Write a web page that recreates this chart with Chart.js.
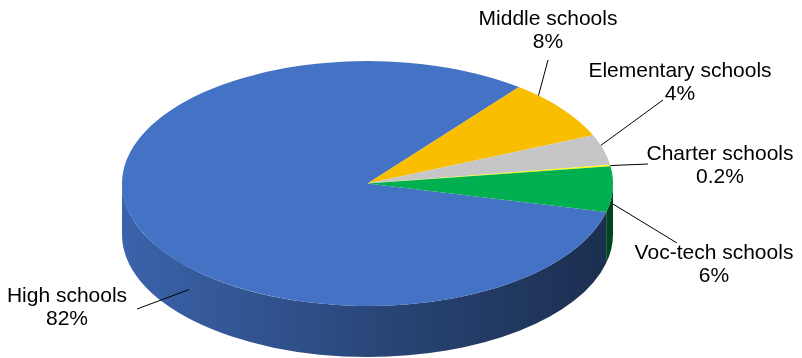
<!DOCTYPE html>
<html>
<head>
<meta charset="utf-8">
<script src="https://cdn.jsdelivr.net/npm/chart.js@4/dist/chart.umd.min.js"></script>
<style>
  html, body { margin: 0; padding: 0; background: #ffffff; }
  #wrap { width: 802px; height: 358px; }
</style>
</head>
<body>
<div id="wrap"><canvas id="c" width="802" height="358"></canvas></div>
<script>
// ---- data ----
const categories = ['High schools', 'Middle schools', 'Elementary schools', 'Charter schools', 'Voc-tech schools'];
const shares = [82, 8, 4, 0.2, 6];           // percent of total
const sliceColors = ['#4472C4', '#FABE00', '#C6C6C6', '#FFFF00', '#00B050'];

// ---- layout / style (not data) ----
const geom = { cx: 367.5, cy: 183.5, rx: 245.5, ry: 122.5, depth: 51 };
// label: text centre x, first baseline y; leader anchor (fraction along slice, depth offset); leader end
const labelLayout = [
  { tx: 67,  ty: 302, fr: 0.418, dz: 22, ex: 137, ey: 309 },
  { tx: 548, ty: 25,  fr: 0.21,  dz: 0,  ex: 548, ey: 60 },
  { tx: 680, ty: 77,  fr: 0.35,  dz: 0,  ex: 663, ey: 100 },
  { tx: 720, ty: 160, fr: 0.5,   dz: 0,  ex: 648, ey: 164 },
  { tx: 714, ty: 259, fr: 0.47,  dz: 16, ex: 677, ey: 243 }
];
const FONT = '21px "Liberation Sans", Arial, sans-serif';

function shade(hex, f) {
  const n = parseInt(hex.slice(1), 16);
  const r = Math.round(((n >> 16) & 255) * f);
  const g = Math.round(((n >> 8) & 255) * f);
  const b = Math.round((n & 255) * f);
  return `rgb(${r},${g},${b})`;
}

const pie3d = {
  id: 'pie3d',
  beforeDatasetsDraw(chart) {
    const ctx = chart.ctx;
    const meta = chart.getDatasetMeta(0);
    const { cx, cy, rx, ry, depth } = geom;
    // side walls (front half only)
    meta.data.forEach((arc, i) => {
      const s = arc.startAngle, e = arc.endAngle;
      for (let k = -1; k <= 2; k++) {
        const lo = 2 * Math.PI * k, hi = lo + Math.PI;
        const a = Math.max(s, lo), b = Math.min(e, hi);
        if (b <= a) continue;
        const grad = ctx.createLinearGradient(cx - rx, 0, cx + rx, 0);
        grad.addColorStop(0, shade(sliceColors[i], 0.87));
        grad.addColorStop(0.5, shade(sliceColors[i], 0.62));
        grad.addColorStop(1, shade(sliceColors[i], 0.40));
        ctx.save();
        ctx.beginPath();
        ctx.ellipse(cx, cy, rx, ry, 0, a, b, false);
        ctx.ellipse(cx, cy + depth, rx, ry, 0, b, a, true);
        ctx.closePath();
        ctx.fillStyle = grad;
        ctx.fill();
        ctx.restore();
      }
    });
    // squash the library's circular pie into the top-face ellipse
    const a0 = meta.data[0];
    const R = a0.outerRadius;
    ctx.save();
    ctx.translate(cx, cy);
    ctx.scale(rx / R, ry / R);
    ctx.translate(-a0.x, -a0.y);
  },
  afterDatasetsDraw(chart) {
    chart.ctx.restore();
  },
  afterDraw(chart) {
    const ctx = chart.ctx;
    const meta = chart.getDatasetMeta(0);
    const { cx, cy, rx, ry } = geom;
    ctx.save();
    ctx.font = FONT;
    ctx.fillStyle = '#000';
    ctx.textAlign = 'center';
    ctx.textBaseline = 'alphabetic';
    ctx.strokeStyle = '#000';
    ctx.lineWidth = 1;
    meta.data.forEach((arc, i) => {
      const L = labelLayout[i];
      const ang = arc.startAngle + (arc.endAngle - arc.startAngle) * L.fr;
      const ax = cx + rx * Math.cos(ang);
      const ay = cy + ry * Math.sin(ang) + L.dz;
      ctx.beginPath();
      ctx.moveTo(ax, ay);
      ctx.lineTo(L.ex, L.ey);
      ctx.stroke();
      ctx.fillText(categories[i], L.tx, L.ty);
      ctx.fillText(shares[i] + '%', L.tx, L.ty + 23);
    });
    ctx.restore();
  }
};

new Chart(document.getElementById('c'), {
  type: 'pie',
  data: {
    labels: categories,
    datasets: [{
      data: shares,
      backgroundColor: sliceColors,
      borderWidth: 0
    }]
  },
  options: {
    responsive: false,
    animation: false,
    rotation: 103.5,
    layout: { padding: 0 },
    plugins: {
      legend: { display: false },
      tooltip: { enabled: false }
    }
  },
  plugins: [pie3d]
});
</script>
</body>
</html>
